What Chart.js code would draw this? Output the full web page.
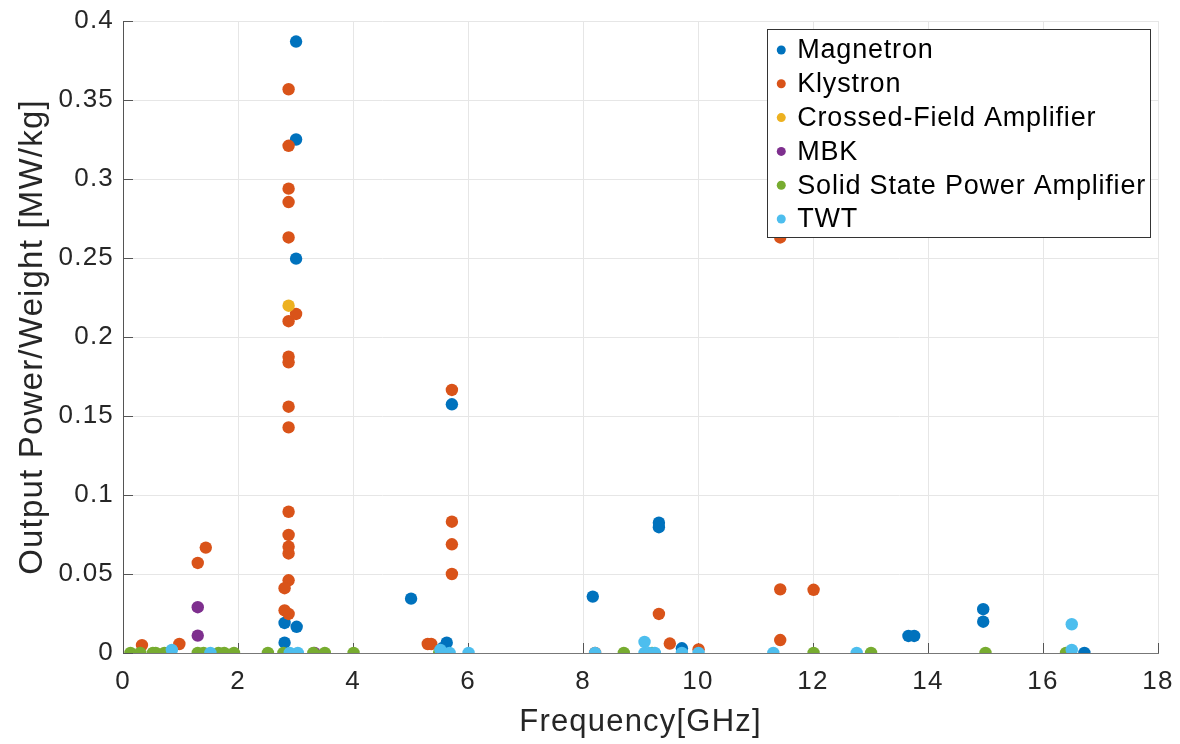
<!DOCTYPE html>
<html lang="en">
<head>
    <meta charset="UTF-8">
    <title>Output Power/Weight vs Frequency</title>
    <script src="https://cdn.jsdelivr.net/npm/chart.js"></script>
    <style>
        body { margin: 0; background: #fff; }
        #grafico { display: block; }
    </style>
</head>
<body>
    <canvas id="grafico" width="1180" height="744"></canvas>

    <script>
        // Series labels and MATLAB default colours
        const seriesNames = ["Magnetron", "Klystron", "Crossed-Field Amplifier", "MBK", "Solid State Power Amplifier", "TWT"];
        const seriesColors = ["#0072BD", "#D95319", "#EDB120", "#7E2F8E", "#77AC30", "#4DBEEE"];

        // Frequency [GHz] and output power/weight [MW/kg]
        const magnetronX = [3.01, 3.01, 3.01, 5.72, 9.32, 9.32, 8.17, 5.01, 14.96, 14.96, 2.81, 3.02, 13.66, 13.76, 2.81, 5.63, 5.55, 9.72, 16.72];
        const magnetronY = [0.387, 0.325, 0.2496, 0.1574, 0.0825, 0.0796, 0.0357, 0.0344, 0.0277, 0.0198, 0.019, 0.0166, 0.0108, 0.0108, 0.0065, 0.0065, 0.003, 0.003, 0.0];

        const klystronX = [2.88, 2.88, 2.88, 2.88, 2.88, 2.88, 2.88, 2.88, 2.88, 2.88, 2.88, 2.88, 2.88, 2.88, 2.88, 2.88, 3.01, 2.81, 2.81,
                           5.72, 5.72, 5.72, 5.72, 5.3, 5.36, 0.33, 0.98, 1.3, 1.44, 9.32, 9.51, 10.01, 8.21, 11.43, 11.43, 11.43, 12.01];
        const klystronY = [0.3568, 0.321, 0.2939, 0.2854, 0.263, 0.21, 0.1875, 0.184, 0.1559, 0.1428, 0.0894, 0.0747, 0.0673, 0.063, 0.046, 0.0247, 0.2146, 0.041, 0.027,
                           0.1665, 0.0831, 0.0688, 0.05, 0.0057, 0.0057, 0.005, 0.0057, 0.057, 0.0667, 0.0247, 0.006, 0.0023, 0.0, 0.263, 0.0403, 0.0082, 0.04];

        const cfaX = [2.88, 0.83];
        const cfaY = [0.2198, 0.0];

        const mbkX = [1.3, 1.3, 3.33];
        const mbkY = [0.029, 0.011, 0.0];

        const sspaX = [0.13, 0.3, 0.52, 0.57, 0.72, 0.78, 1.3, 1.4, 1.66, 1.76, 1.93, 2.52, 2.79, 3.31, 3.51, 4.01, 5.5, 8.71, 9.2, 12.01, 13.01, 15.0, 16.4];
        const sspaY = [0, 0, 0, 0, 0, 0, 0, 0, 0, 0, 0, 0, 0, 0, 0, 0, 0, 0, 0, 0, 0, 0, 0];

        const twtX = [0.85, 1.52, 2.9, 3.04, 5.52, 5.68, 6.01, 8.21, 9.07, 9.07, 9.15, 9.25, 9.72, 10.01, 11.31, 12.76, 16.5, 16.5];
        const twtY = [0.002, 0, 0, 0, 0.002, 0, 0, 0, 0.007, 0, 0, 0, 0, 0, 0, 0, 0.0182, 0.002];

        // Axis ticks
        const xTicks = [0, 2, 4, 6, 8, 10, 12, 14, 16, 18];
        const yTicks = [0, 0.05, 0.1, 0.15, 0.2, 0.25, 0.3, 0.35, 0.4];

        const seriesX = [magnetronX, klystronX, cfaX, mbkX, sspaX, twtX];
        const seriesY = [magnetronY, klystronY, cfaY, mbkY, sspaY, twtY];

        const textColor = "#262626";
        const fontFamily = "'Liberation Sans', Arial, Helvetica, sans-serif";

        // Build datasets; later series drawn on top like in MATLAB
        const datasets = seriesNames.map((name, i) => ({
            label: name,
            data: seriesX[i].map((x, j) => ({ x: x, y: seriesY[i][j] })),
            backgroundColor: seriesColors[i],
            borderWidth: 0,
            pointRadius: 6.2,
            pointHoverRadius: 6.2,
            order: seriesNames.length - i
        }));

        // Slightly wider text, like the original rendering
        const letterSpacingPlugin = {
            id: "letterSpacing",
            beforeLayout(chart) { chart.ctx.letterSpacing = "1.2px"; },
            beforeDraw(chart) { chart.ctx.letterSpacing = "1.2px"; }
        };

        // Inward tick marks on the left and bottom axes
        const innerTicksPlugin = {
            id: "innerTicks",
            beforeDatasetsDraw(chart) {
                const { ctx, chartArea, scales } = chart;
                ctx.save();
                ctx.strokeStyle = "#555";
                ctx.lineWidth = 1;
                ctx.beginPath();
                scales.x.ticks.forEach(t => {
                    const px = Math.round(scales.x.getPixelForValue(t.value)) + 0.5;
                    ctx.moveTo(px, chartArea.bottom);
                    ctx.lineTo(px, chartArea.bottom - 10);
                });
                scales.y.ticks.forEach(t => {
                    const py = Math.round(scales.y.getPixelForValue(t.value)) + 0.5;
                    ctx.moveTo(chartArea.left, py);
                    ctx.lineTo(chartArea.left + 10, py);
                });
                ctx.stroke();
                ctx.restore();
            }
        };

        // Legend box inside the top-right corner of the plot
        const boxLegendPlugin = {
            id: "boxLegend",
            afterDraw(chart) {
                const { ctx, chartArea } = chart;
                const rowH = 33.8;
                ctx.save();
                ctx.letterSpacing = "0.8px";
                ctx.font = "27px " + fontFamily;
                let maxW = 0;
                chart.data.datasets.forEach(ds => { maxW = Math.max(maxW, ctx.measureText(ds.label).width); });
                const w = maxW + 34;
                const h = 208;
                const x0 = chartArea.right - 8 - w;
                const y0 = chartArea.top + 8;
                ctx.fillStyle = "#fff";
                ctx.fillRect(x0, y0, w, h);
                ctx.strokeStyle = "#333";
                ctx.lineWidth = 1;
                ctx.strokeRect(Math.round(x0) + 0.5, Math.round(y0) + 0.5, Math.round(w), Math.round(h));
                ctx.textBaseline = "middle";
                ctx.textAlign = "left";
                chart.data.datasets.forEach((ds, i) => {
                    const cy = y0 + 21 + rowH * i;
                    ctx.fillStyle = ds.backgroundColor;
                    ctx.beginPath();
                    ctx.arc(x0 + 14, cy, 4.5, 0, Math.PI * 2);
                    ctx.fill();
                    ctx.fillStyle = "#000";
                    ctx.fillText(ds.label, x0 + 30, cy + 1);
                });
                ctx.restore();
            }
        };

        const ctx = document.getElementById("grafico").getContext("2d");

        new Chart(ctx, {
            type: "scatter",
            data: { datasets: datasets },
            plugins: [letterSpacingPlugin, innerTicksPlugin, boxLegendPlugin],
            options: {
                responsive: false,
                animation: false,
                devicePixelRatio: 1,
                layout: { padding: { left: 0, top: 21, right: 22, bottom: 0 } },
                plugins: {
                    legend: { display: false },
                    tooltip: { enabled: false }
                },
                scales: {
                    x: {
                        type: "linear",
                        min: 0,
                        max: 18,
                        afterBuildTicks(scale) { scale.ticks = xTicks.map(v => ({ value: v })); },
                        afterFit(scale) {
                            scale.height = 91;
                            scale.paddingLeft = 0;
                            scale.paddingRight = 0;
                        },
                        grid: { color: "#e6e6e6", drawTicks: false },
                        border: { color: "#777", width: 1 },
                        ticks: {
                            color: textColor,
                            padding: 13,
                            maxRotation: 0,
                            font: { family: fontFamily, size: 26 },
                            callback: v => String(v)
                        },
                        title: {
                            display: true,
                            text: "Frequency[GHz]",
                            color: textColor,
                            font: { family: fontFamily, size: 31 },
                            padding: { top: 0, bottom: 3 }
                        }
                    },
                    y: {
                        type: "linear",
                        min: 0,
                        max: 0.4,
                        afterBuildTicks(scale) { scale.ticks = yTicks.map(v => ({ value: v })); },
                        afterFit(scale) {
                            scale.width = 123;
                            scale.paddingTop = 0;
                            scale.paddingBottom = 0;
                        },
                        grid: { color: "#e6e6e6", drawTicks: false },
                        border: { color: "#555", width: 1 },
                        ticks: {
                            color: textColor,
                            padding: 9,
                            font: { family: fontFamily, size: 26 },
                            callback: v => String(Number(v.toFixed(2)))
                        },
                        title: {
                            display: true,
                            text: "Output Power/Weight [MW/kg]",
                            color: textColor,
                            font: { family: fontFamily, size: 33 },
                            padding: { top: 13, bottom: 0 }
                        }
                    }
                }
            }
        });
    </script>
</body>
</html>
